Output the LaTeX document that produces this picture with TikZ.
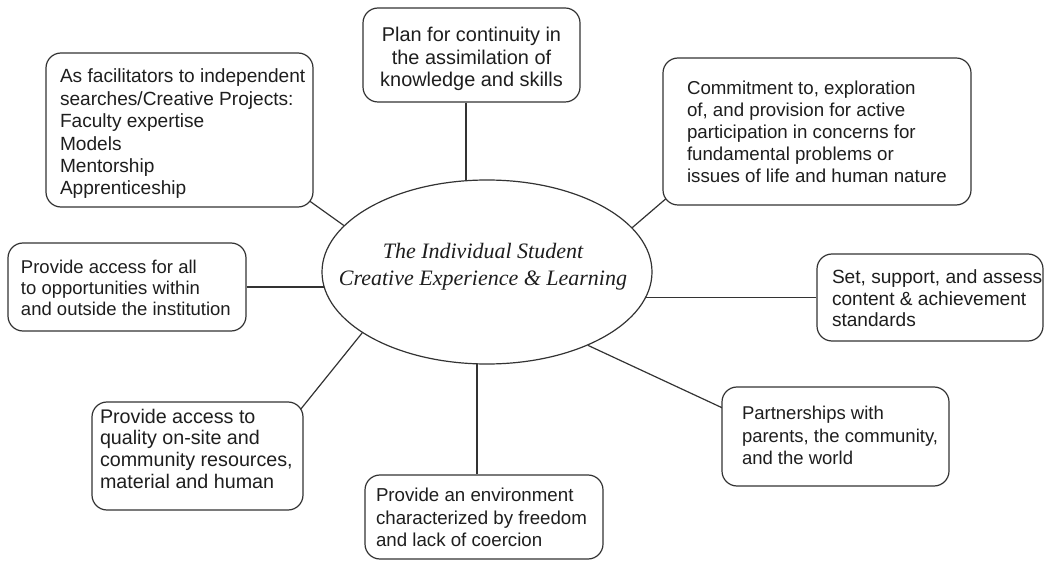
\documentclass[tikz,border=0pt]{standalone}
\usepackage{fontspec}
\setmainfont{Liberation Sans}
\newfontfamily\centerfont{Liberation Serif}
\usetikzlibrary{calc,backgrounds,shapes.geometric}
\definecolor{linecol}{HTML}{333333}
\definecolor{txtcol}{HTML}{1E1E1E}
\hfuzz=60pt
\hbadness=10000
% #1 box width, #2 left padding, #3 vertical raise, #4 lines
\newcommand\boxtext[4]{\makebox[#1][l]{\hspace*{#2}\raisebox{#3}[\height][\depth]{\begin{tabular}{@{}l@{}}#4\end{tabular}}}}
\newcommand\boxtextc[3]{\makebox[#1][c]{\raisebox{#2}[\height][\depth]{\begin{tabular}{@{}c@{}}#3\end{tabular}}}}
\newcommand\boxfs[2]{\fontsize{#1}{#2}\selectfont}
\tikzset{
  box/.style={draw=linecol, fill=white, line width=1.2pt, rounded corners=15pt,
    text=txtcol, inner xsep=0pt, inner ysep=0pt},
  conn/.style={draw=linecol, line width=1.2pt},
  hub/.style={ellipse, draw=linecol, fill=white, line width=1.2pt,
    minimum width=330pt, minimum height=184pt, inner sep=0pt},
  hubtext/.style={font=\centerfont\itshape\fontsize{22pt}{27pt}\selectfont,
    text=txtcol, align=center, inner sep=0pt}
}
\begin{document}
\begin{tikzpicture}[x=1pt,y=-1pt]
\useasboundingbox (0,0) rectangle (1045,561);
\node[hub, label={[hubtext, xshift=-4pt, yshift=5pt]center:{The Individual Student\\Creative Experience \& Learning}}] (c) at (487,272) {};

\node[box, minimum height=94pt, font=\boxfs{19.9pt}{22.5pt}] (b1) at (471.5,55)
  {\boxtextc{217pt}{-5pt}{Plan for continuity in\\the assimilation of\\knowledge and skills}};
\node[box, minimum height=154pt, font=\boxfs{19.1pt}{22.4pt}] (b2) at (179.5,130)
  {\boxtext{267pt}{14pt}{-4.5pt}{As facilitators to independent\\searches/Creative Projects:\\Faculty expertise\\Models\\Mentorship\\Apprenticeship}};
\node[box, minimum height=147pt, font=\boxfs{18.7pt}{22.2pt}] (b3) at (817,131.5)
  {\boxtext{308pt}{24pt}{-2.5pt}{Commitment to, exploration\\of, and provision for active\\participation in concerns for\\fundamental problems or\\issues of life and human nature}};
\node[box, minimum height=88pt, font=\boxfs{18.5pt}{21.3pt}] (b4) at (127,287)
  {\boxtext{238pt}{13pt}{-3.4pt}{Provide access for all\\to opportunities within\\and outside the institution}};
\node[box, minimum height=87pt, font=\boxfs{19.1pt}{21.7pt}] (b5) at (930,297.5)
  {\boxtext{226pt}{15pt}{-3.2pt}{Set, support, and assess\\content \& achievement\\standards}};
\node[box, minimum height=99pt, font=\boxfs{18.5pt}{22.8pt}] (b6) at (835.5,436.5)
  {\boxtext{227pt}{20pt}{-1pt}{Partnerships with\\parents, the community,\\and the world}};
\node[box, minimum height=84pt, font=\boxfs{18.7pt}{22.5pt}] (b7) at (484,517)
  {\boxtext{238pt}{11pt}{-2.7pt}{Provide an environment\\characterized by freedom\\and lack of coercion}};
\node[box, minimum height=108pt, font=\boxfs{19.7pt}{21.7pt}] (b8) at (197.5,456)
  {\boxtext{211pt}{8pt}{4.5pt}{Provide access to\\quality on-site and\\community resources,\\material and human}};

\begin{pgfonlayer}{background}
  \draw[conn] ([xshift=-5.5pt]b1.south) -- ([xshift=-5.5pt]b1.south |- c.center);
  \draw[conn] (c.162) -- ($(b2.south east)+(-13,-13)$);
  \draw[conn] (c.17) -- ($(b3.south west)+(13,-15)$);
  \draw[conn] (b4.east) -- (b4.east -| c.center);
  \draw[conn] (b5.west) -- (b5.west -| c.center);
  \draw[conn] (c.-36) -- ($(b6.north west)+(10,25.7)$);
  \draw[conn] ([xshift=-7pt]b7.north) -- ([xshift=-7pt]b7.north |- c.center);
  \draw[conn] (c.-154) -- ($(b8.north east)+(-12.7,20)$);
\end{pgfonlayer}
\end{tikzpicture}
\end{document}
